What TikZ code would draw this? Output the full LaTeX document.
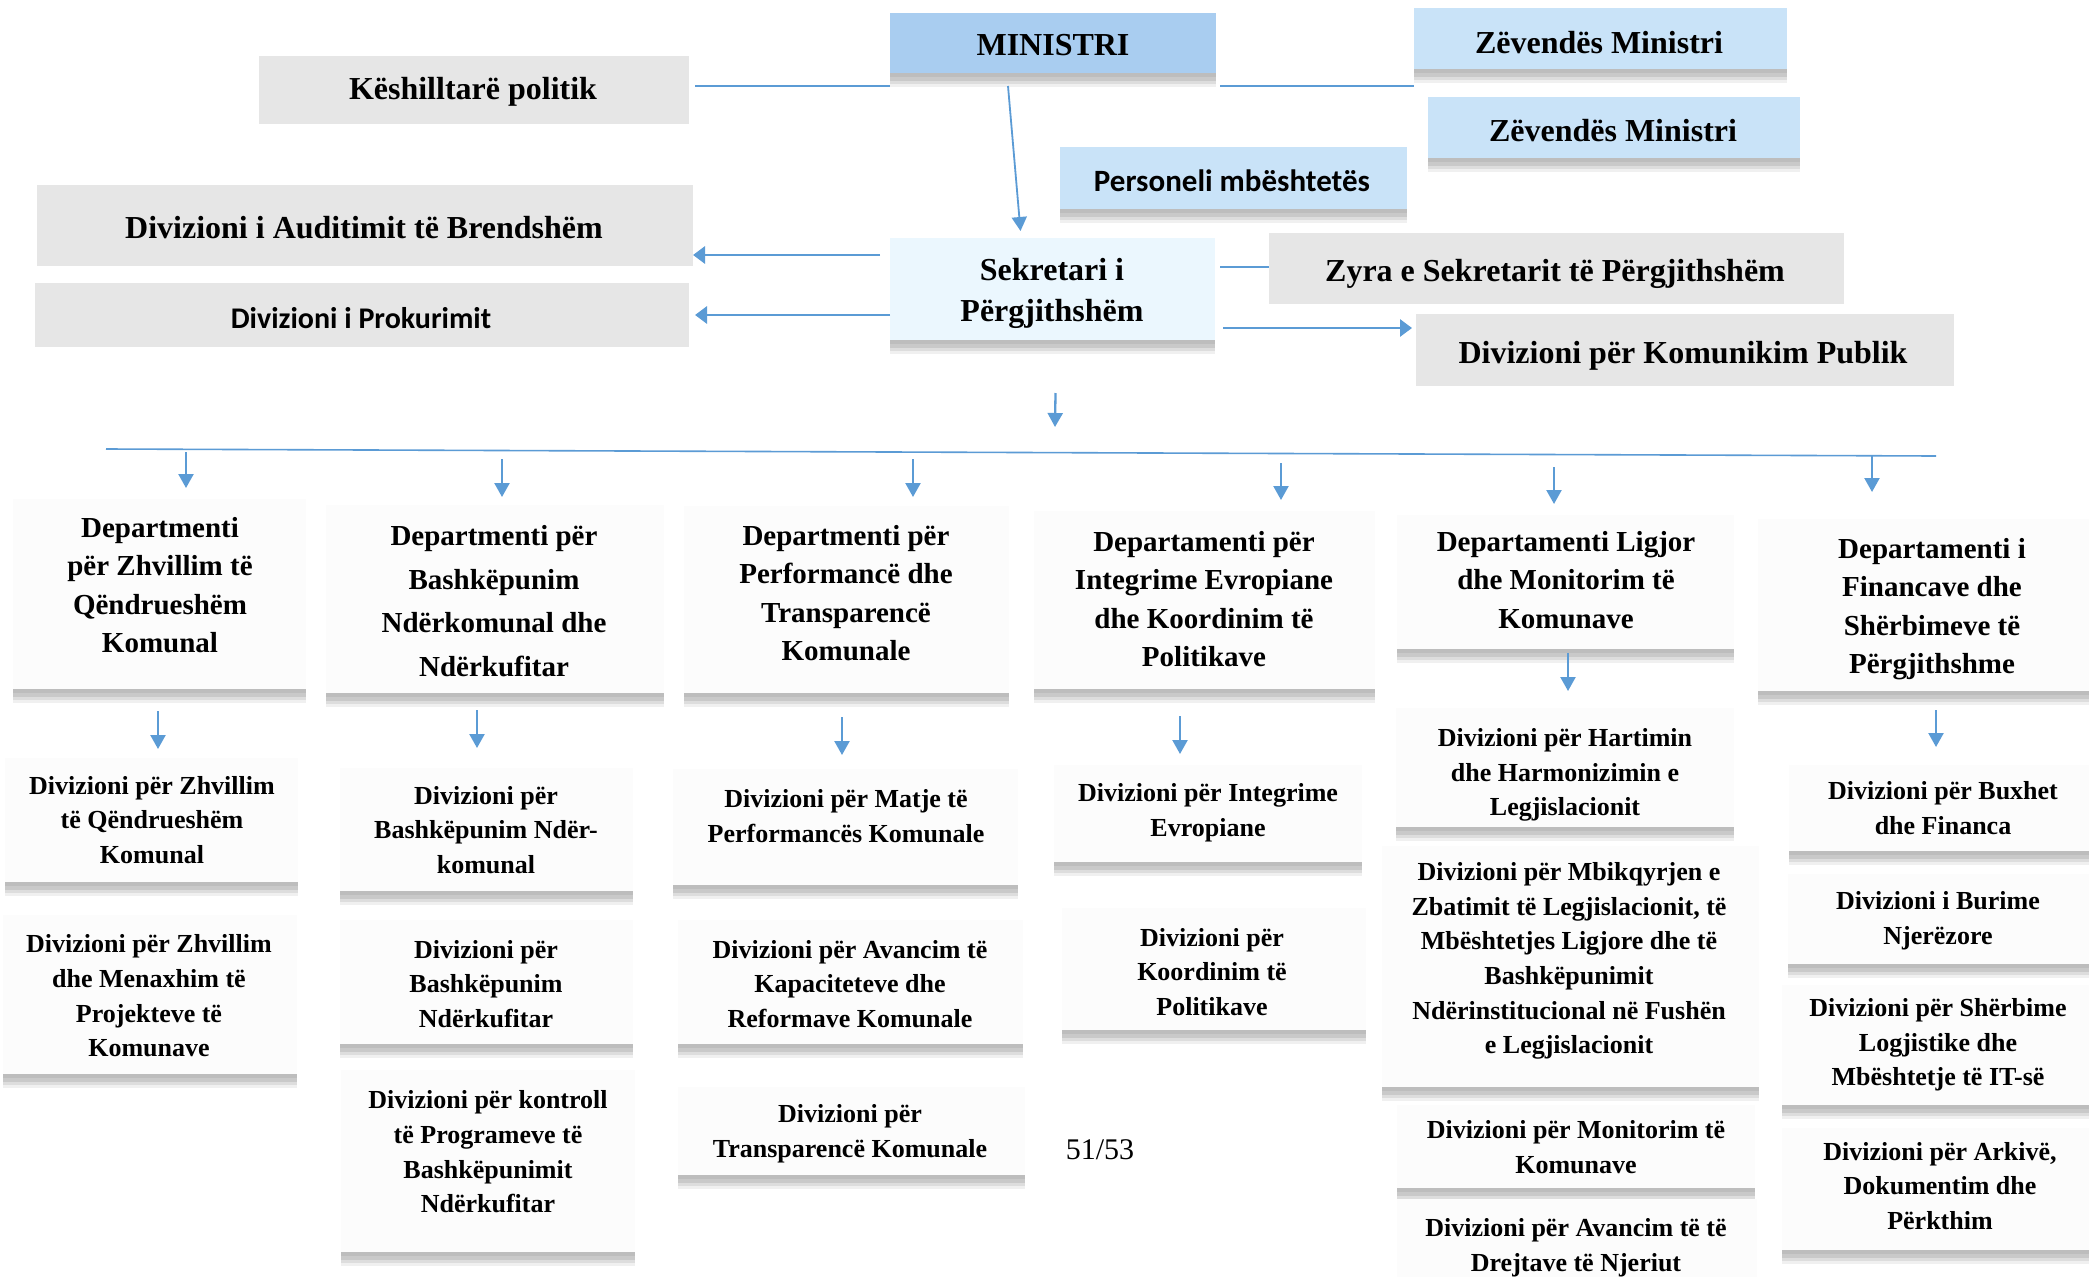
\documentclass[tikz,border=0pt]{standalone}
\usepackage{fontspec}
\setmainfont{Liberation Serif}
\newfontfamily\calib{Carlito}
\usetikzlibrary{arrows.meta,shadows,calc}
\definecolor{lnblue}{HTML}{5B9BD5}
\definecolor{minblue}{HTML}{A9CDF0}
\definecolor{zvblue}{HTML}{C9E3F8}
\definecolor{sekblue}{HTML}{EBF7FE}
\definecolor{grayb}{HTML}{E6E6E6}
\definecolor{wbox}{HTML}{FCFCFC}
\newcommand\bx[6]{\node[#6, minimum width={#4-#2}, minimum height={#5-#3}] (#1) at ({(#2+#4)/2},{(#3+#5)/2}) {};}
\begin{document}
\begin{tikzpicture}[x=1pt,y=-1pt,
  boxbase/.style={draw=none, inner sep=0pt, outer sep=0pt},
  shad/.style={
    drop shadow={shadow xshift=0pt,shadow yshift=-14pt,opacity=0.06,fill=black},
    drop shadow={shadow xshift=0pt,shadow yshift=-11pt,opacity=0.08,fill=black},
    drop shadow={shadow xshift=0pt,shadow yshift=-8pt,opacity=0.09,fill=black},
    drop shadow={shadow xshift=0pt,shadow yshift=-4pt,opacity=0.06,fill=black}},
  minbox/.style={boxbase, fill=minblue, shad},
  zvbox/.style={boxbase, fill=zvblue, shad},
  sekbox/.style={boxbase, fill=sekblue, shad},
  graybox/.style={boxbase, fill=grayb},
  wbx/.style={boxbase, fill=wbox, shad},
  ttop/.style={font=\fontsize{32}{41}\selectfont\bfseries, align=center, inner sep=0pt},
  tcal/.style={font=\calib\fontsize{31}{38}\selectfont\bfseries, align=center, inner sep=0pt},
  tdep/.style={font=\fontsize{29}{38.3}\selectfont\bfseries, align=center, inner sep=0pt},
  tdepw/.style={font=\fontsize{29}{43.5}\selectfont\bfseries, align=center, inner sep=0pt},
  tdiv/.style={font=\fontsize{26}{34.7}\selectfont\bfseries, align=center, inner sep=0pt},
  thin/.style={draw=lnblue, line width=1.6pt},
  arr/.style={draw=lnblue, line width=2.3pt, -{Triangle[width=15pt,length=14pt]}},
  arrb/.style={draw=lnblue, line width=2.8pt, -{Triangle[width=17pt,length=12pt]}}
]
\useasboundingbox (0,0) rectangle (2089,1277);
\fill[white] (0,0) rectangle (2089,1277);

% ---- top level boxes ----
\bx{mini}{890}{13}{1216}{73}{minbox}
\bx{kesh}{259}{56}{689}{124}{graybox}
\bx{zv1}{1414}{8}{1787}{69}{zvbox}
\bx{zv2}{1428}{97}{1800}{158}{zvbox}
\bx{pers}{1060}{147}{1407}{209}{zvbox}
\bx{aud}{37}{185}{693}{266}{graybox}
\bx{prok}{35}{283}{689}{347}{graybox}
\bx{sek}{890}{238}{1215}{340}{sekbox}
\bx{zyra}{1269}{233}{1844}{304}{graybox}
\bx{kom}{1416}{314}{1954}{386}{graybox}

\node[ttop] (tmini) at (1053,45) {MINISTRI};
\node[ttop] (tkesh) at (473,92) {Këshilltarë politik};
\node[ttop] (tzv1) at (1599,43) {Zëvendës Ministri};
\node[ttop] (tzv2) at (1613,131) {Zëvendës Ministri};
\node[tcal] (tpers) at (1232,181) {Personeli mbështetës};
\node[ttop] (taud) at (364,228) {Divizioni i Auditimit të Brendshëm};
\node[tcal,font=\calib\fontsize{30}{36}\selectfont\bfseries] (tprok) at (361,318) {Divizioni i Prokurimit};
\node[ttop] (tsek) at (1052,293) {Sekretari i\\Përgjithshëm};
\node[ttop] (tzyra) at (1555,274) {Zyra e Sekretarit të Përgjithshëm};
\node[ttop] (tkom) at (1683,356) {Divizioni për Komunikim Publik};

% ---- top connectors ----
\draw[thin] ([xshift=6pt,yshift=4pt]kesh.east) -- ([yshift=-13pt]mini.south west);
\draw[thin] ([xshift=4pt,yshift=-13pt]mini.south east) -- ([yshift=-17pt]zv1.south west);
\draw[arr,line width=1.8pt] ([xshift=-45pt,yshift=-13pt]mini.south) -- ([xshift=-32pt,yshift=7pt]sek.north);
\draw[arrb] ([xshift=-10pt,yshift=34pt]sek.west) -- ([yshift=-29.5pt]aud.east);
\draw[arrb] ([yshift=-26pt]sek.west) -- ([xshift=6pt]prok.east);
\draw[thin] ([xshift=5pt,yshift=22pt]sek.east) -- ([yshift=1.5pt]zyra.west);
\draw[arrb] ([xshift=8pt,yshift=-39pt]sek.east) -- ([xshift=-4pt,yshift=22pt]kom.west);

% ---- bus ----
\coordinate (busL) at (106,449);
\coordinate (busR) at (1936,456);
\coordinate (a0) at (1055,427);
\draw[arr] ([xshift=3pt,yshift=-53pt]sek.south) -- (a0);
\draw[thin] (busL) -- (busR);

% ---- departments ----
\bx{d1}{13}{499}{306}{689}{wbx}
\bx{d2}{326}{505}{664}{693}{wbx}
\bx{d3}{684}{506}{1009}{693}{wbx}
\bx{d4}{1034}{511}{1375}{689}{wbx}
\bx{d5}{1397}{515}{1734}{649}{wbx}
\bx{d6}{1758}{519}{2110}{691}{wbx}

\node[tdep] (td1) at (160,585) {Departmenti\\për Zhvillim të\\Qëndrueshëm\\Komunal};
\node[tdepw] (td2) at (494,601) {Departmenti për\\Bashkëpunim\\Ndërkomunal dhe\\Ndërkufitar};
\node[tdep] (td3) at (846,593) {Departmenti për\\Performancë dhe\\Transparencë\\Komunale};
\node[tdep] (td4) at (1204,599) {Departamenti për\\Integrime Evropiane\\dhe Koordinim të\\Politikave};
\node[tdep] (td5) at (1566,580) {Departamenti Ligjor\\dhe Monitorim të\\Komunave};
\node[tdep] (td6) at (1932,609) {Departamenti i\\Financave dhe\\Shërbimeve të\\Përgjithshme};

\coordinate (b1) at (186,452);
\coordinate (b2) at (502,459);
\coordinate (b3) at (913,459);
\coordinate (b4) at (1281,463);
\coordinate (b5) at (1554,467);
\coordinate (b6) at (1872,456);
\draw[arr] (b1) -- ([xshift=26.5pt,yshift=11pt]d1.north);
\draw[arr] (b2) -- ([xshift=7pt,yshift=8pt]d2.north);
\draw[arr] (b3) -- ([xshift=66.5pt,yshift=9pt]d3.north);
\draw[arr] (b4) -- ([xshift=76.5pt,yshift=11pt]d4.north);
\draw[arr] (b5) -- ([xshift=-11.5pt,yshift=11pt]d5.north);
\draw[arr] (b6) -- ([xshift=-62pt,yshift=27pt]d6.north);

% ---- divisions ----
\bx{v1a}{5}{758}{298}{882}{wbx}
\bx{v1b}{3}{915}{297}{1074}{wbx}
\bx{v2a}{340}{768}{633}{891}{wbx}
\bx{v2b}{340}{920}{633}{1044}{wbx}
\bx{v2c}{341}{1070}{635}{1252}{wbx}
\bx{v3a}{673}{769}{1018}{885}{wbx}
\bx{v3b}{678}{920}{1023}{1044}{wbx}
\bx{v3c}{678}{1087}{1025}{1175}{wbx}
\bx{v4a}{1054}{765}{1362}{862}{wbx}
\bx{v4b}{1062}{908}{1366}{1030}{wbx}
\bx{v5a}{1396}{708}{1734}{827}{wbx}
\bx{v5b}{1382}{846}{1759}{1087}{wbx}
\bx{v5c}{1397}{1105}{1755}{1188}{wbx}
\bx{v5d}{1397}{1199}{1757}{1292}{wbx}
\bx{v6a}{1789}{765}{2098}{851}{wbx}
\bx{v6b}{1788}{874}{2098}{964}{wbx}
\bx{v6c}{1782}{985}{2098}{1105}{wbx}
\bx{v6d}{1782}{1128}{2098}{1250}{wbx}

\node[tdiv] (t1a) at (152,820) {Divizioni për Zhvillim\\të Qëndrueshëm\\Komunal};
\node[tdiv] (t1b) at (149,996) {Divizioni për Zhvillim\\dhe Menaxhim të\\Projekteve të\\Komunave};
\node[tdiv] (t2a) at (486,830) {Divizioni për\\Bashkëpunim Ndër-\\komunal};
\node[tdiv] (t2b) at (486,984) {Divizioni për\\Bashkëpunim\\Ndërkufitar};
\node[tdiv] (t2c) at (488,1152) {Divizioni për kontroll\\të Programeve të\\Bashkëpunimit\\Ndërkufitar};
\node[tdiv] (t3a) at (846,816) {Divizioni për Matje të\\Performancës Komunale};
\node[tdiv] (t3b) at (850,984) {Divizioni për Avancim të\\Kapaciteteve dhe\\Reformave Komunale};
\node[tdiv] (t3c) at (850,1134) {Divizioni për\\Transparencë Komunale};
\node[tdiv] (t4a) at (1208,813) {Divizioni për Integrime\\Evropiane};
\node[tdiv] (t4b) at (1212,972) {Divizioni për\\Koordinim të\\Politikave};
\node[tdiv] (t5a) at (1565,775) {Divizioni për Hartimin\\dhe Harmonizimin e\\Legjislacionit};
\node[tdiv] (t5b) at (1569,961) {Divizioni për Mbikqyrjen e\\Zbatimit të Legjislacionit, të\\Mbështetjes Ligjore dhe të\\Bashkëpunimit\\Ndërinstitucional në Fushën\\e Legjislacionit};
\node[tdiv] (t5c) at (1576,1147) {Divizioni për Monitorim të\\Komunave};
\node[tdiv] (t5d) at (1576,1248) {Divizioni për Avancim të të\\Drejtave të Njeriut};
\node[tdiv] (t6a) at (1943,808) {Divizioni për Buxhet\\dhe Financa};
\node[tdiv] (t6b) at (1938,921) {Divizioni i Burime\\Njerëzore};
\node[tdiv] (t6c) at (1938,1045) {Divizioni për Shërbime\\Logjistike dhe\\Mbështetje të IT-së};
\node[tdiv] (t6d) at (1940,1186) {Divizioni për Arkivë,\\Dokumentim dhe\\Përkthim};

\node[font=\fontsize{30}{36}\selectfont, inner sep=0pt] (pg) at (1100,1150) {51/53};

% division arrows
\draw[arr] ([xshift=-1.5pt,yshift=-22pt]d1.south) -- ([xshift=6.5pt,yshift=9pt]v1a.north);
\draw[arr] ([xshift=-18pt,yshift=-17pt]d2.south) -- ([xshift=-9.5pt,yshift=20pt]v2a.north);
\draw[arr] ([xshift=-4.5pt,yshift=-24pt]d3.south) -- ([xshift=-3.5pt,yshift=14pt]v3a.north);
\draw[arr] ([xshift=-24.5pt,yshift=-27pt]d4.south) -- ([xshift=-28pt,yshift=11pt]v4a.north);
\draw[arr] ([xshift=2.5pt,yshift=-4pt]d5.south) -- ([xshift=3pt,yshift=17pt]v5a.north);
\draw[arr] ([xshift=2pt,yshift=-19pt]d6.south) -- ([xshift=-7.5pt,yshift=18pt]v6a.north);
\end{tikzpicture}
\end{document}
